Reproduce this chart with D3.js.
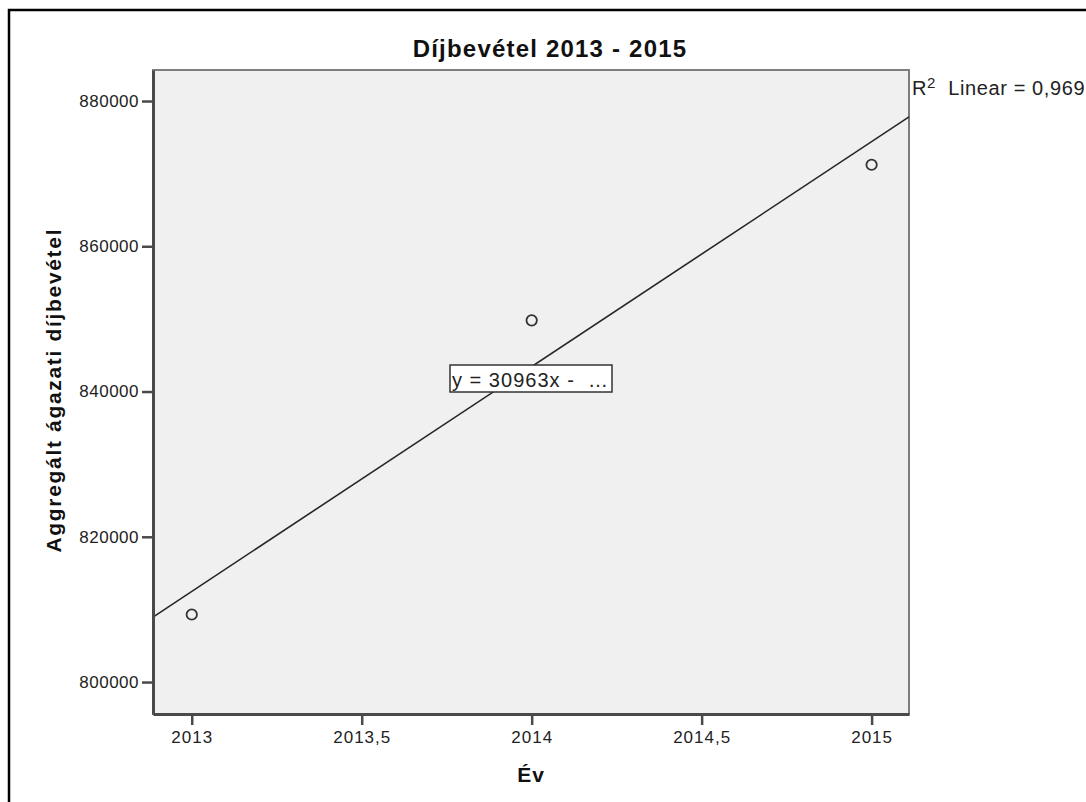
<!DOCTYPE html>
<html>
<head>
<meta charset="utf-8">
<script src="https://cdn.jsdelivr.net/npm/d3@7"></script>
<style>
  html, body { margin: 0; padding: 0; background: #fff; }
  svg { display: block; font-family: "Liberation Sans", Arial, sans-serif; }
</style>
</head>
<body>
<svg id="chart" width="1086" height="802"></svg>
<script>
// Aggregated sector premium income by year
const years = [2013, 2014, 2015];
const revenue = [809300, 849800, 871226];

const xTicks = [2013, 2013.5, 2014, 2014.5, 2015];
const yTicks = [800000, 820000, 840000, 860000, 880000];
const xDomain = [2012.886, 2015.11];
const yDomain = [795600, 884270];

const titleText = "Díjbevétel 2013 - 2015";
const xTitle = "Év";
const yTitle = "Aggregált ágazati díjbevétel";

const svg = d3.select("#chart");
const plot = { left: 153, top: 70, right: 909, bottom: 714 };

const x = d3.scaleLinear().domain(xDomain).range([plot.left, plot.right]);
const y = d3.scaleLinear().domain(yDomain).range([plot.bottom, plot.top]);

// Outer frame (open to the right and bottom)
svg.append("path")
  .attr("d", "M9,1200 L9,10 L1200,10")
  .attr("fill", "none").attr("stroke", "#000").attr("stroke-width", 2.5);

// Plot background
svg.append("rect")
  .attr("x", plot.left).attr("y", plot.top)
  .attr("width", plot.right - plot.left).attr("height", plot.bottom - plot.top)
  .attr("fill", "#f0f0f0").attr("stroke", "#7d7d7d").attr("stroke-width", 2);

// Least-squares fit
const mx = d3.mean(years), my = d3.mean(revenue);
let sxy = 0, sxx = 0, syy = 0;
years.forEach((xv, i) => {
  sxy += (xv - mx) * (revenue[i] - my);
  sxx += (xv - mx) ** 2;
  syy += (revenue[i] - my) ** 2;
});
const slope = sxy / sxx;
const intercept = my - slope * mx;
const r2 = (sxy * sxy) / (sxx * syy);

svg.append("line")
  .attr("x1", x(xDomain[0])).attr("y1", y(intercept + slope * xDomain[0]))
  .attr("x2", x(xDomain[1])).attr("y2", y(intercept + slope * xDomain[1]))
  .attr("stroke", "#262626").attr("stroke-width", 1.6);

// Data points
svg.append("g").selectAll("circle")
  .data(years.map((yr, i) => ({ yr, v: revenue[i] })))
  .join("circle")
  .attr("cx", d => x(d.yr)).attr("cy", d => y(d.v))
  .attr("r", 5.2)
  .attr("fill", "none").attr("stroke", "#333").attr("stroke-width", 1.8);

// Axes
const fmt = d => String(d).replace(".", ",");
const yAxis = svg.append("g")
  .attr("transform", `translate(${plot.left},0)`)
  .call(d3.axisLeft(y).tickValues(yTicks).tickFormat(fmt).tickSize(11).tickSizeOuter(0).tickPadding(3));
const xAxis = svg.append("g")
  .attr("transform", `translate(0,${plot.bottom})`)
  .call(d3.axisBottom(x).tickValues(xTicks).tickFormat(fmt).tickSize(11).tickSizeOuter(0).tickPadding(6));

[yAxis, xAxis].forEach(g => {
  g.select(".domain").attr("stroke", "#4a4a4a").attr("stroke-width", 3);
  g.selectAll(".tick line").attr("stroke", "#4a4a4a").attr("stroke-width", 2.5);
  g.selectAll(".tick text")
    .attr("fill", "#222").attr("font-size", 17)
    .attr("font-family", "Liberation Sans, Arial, sans-serif");
});
yAxis.selectAll(".tick text").attr("letter-spacing", 0.5);
xAxis.selectAll(".tick text").attr("letter-spacing", 1);

// Titles
svg.append("text")
  .attr("x", 550).attr("y", 57).attr("text-anchor", "middle")
  .attr("font-size", 24).attr("font-weight", "bold").attr("fill", "#111")
  .attr("letter-spacing", 1.2)
  .text(titleText);

svg.append("text")
  .attr("x", 531).attr("y", 782).attr("text-anchor", "middle")
  .attr("font-size", 21).attr("font-weight", "bold").attr("fill", "#111")
  .attr("letter-spacing", 1)
  .text(xTitle);

svg.append("text")
  .attr("transform", `translate(61,${(plot.top + plot.bottom) / 2 - 1}) rotate(-90)`)
  .attr("text-anchor", "middle")
  .attr("font-size", 21).attr("font-weight", "bold").attr("fill", "#111")
  .attr("textLength", 323).attr("lengthAdjust", "spacing")
  .text(yTitle);

// R² annotation
const r2Text = svg.append("text")
  .attr("x", 912).attr("y", 95)
  .attr("font-size", 20).attr("fill", "#222").attr("letter-spacing", 0.6);
r2Text.append("tspan").text("R");
r2Text.append("tspan").attr("dy", -7).attr("font-size", 15).text("2");
r2Text.append("tspan").attr("dy", 7).text("\u00a0 Linear = " + r2.toFixed(3).replace(".", ","));

// Equation label box
const eq = svg.append("g");
eq.append("rect")
  .attr("x", 450).attr("y", 365).attr("width", 162).attr("height", 27)
  .attr("fill", "#fff").attr("stroke", "#333").attr("stroke-width", 1.5);
eq.append("text")
  .attr("x", 452).attr("y", 387)
  .attr("font-size", 20).attr("fill", "#222")
  .attr("textLength", 156).attr("lengthAdjust", "spacing")
  .text("y = " + Math.round(slope) + "x -  \u00a0…");
</script>
</body>
</html>
